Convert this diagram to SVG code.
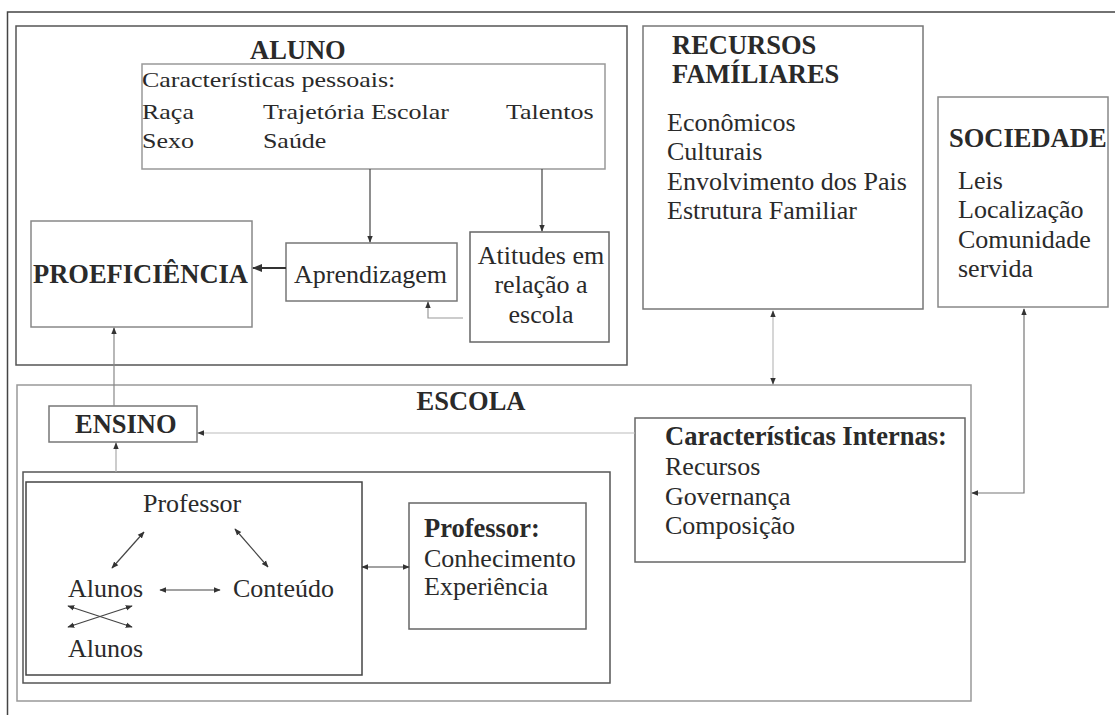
<svg xmlns="http://www.w3.org/2000/svg" width="1115" height="715" viewBox="0 0 1115 715">
<style>
text{font-family:"Liberation Serif","Times New Roman",serif;fill:#2a2a2a;font-size:26px}
.b{font-weight:bold;font-size:26.5px}
.box{fill:none;stroke-width:1.5}
.c{fill:none;stroke-width:1.2}
</style>
<defs>
<marker id="ah" viewBox="0 0 10 10" refX="9" refY="5" markerWidth="7" markerHeight="7" markerUnits="userSpaceOnUse" orient="auto-start-reverse"><path d="M0,1 L10,5 L0,9 z" fill="#333"/></marker>
<marker id="ahb" viewBox="0 0 10 10" refX="9" refY="5" markerWidth="10" markerHeight="10" markerUnits="userSpaceOnUse" orient="auto-start-reverse"><path d="M0,1 L10,5 L0,9 z" fill="#333"/></marker>
</defs>
<rect width="1115" height="715" fill="#fff"/>
<g id="frame"><path d="M7.5,715 V12 H1115" fill="none" stroke="#444" stroke-width="1.5"/></g>

<g id="aluno">
<rect class="box" x="16" y="26" width="611" height="339" stroke="#555"/>
<text class="b" x="250" y="59">ALUNO</text>
</g>
<g id="caracteristicas-pessoais">
<rect class="box" x="142" y="64" width="463" height="105" stroke="#999"/>
<g transform="translate(142,0) scale(1.3,1)" font-size="20">
<text x="0" y="87" style="font-size:20px">Características pessoais:</text>
<text x="0" y="119" style="font-size:20px">Raça</text>
<text x="93" y="119" style="font-size:20px">Trajetória Escolar</text>
<text x="280" y="119" style="font-size:20px">Talentos</text>
<text x="0" y="148" style="font-size:20px">Sexo</text>
<text x="93" y="148" style="font-size:20px">Saúde</text>
</g>
</g>
<g id="proeficiencia">
<rect class="box" x="31" y="221" width="221" height="106" stroke="#888"/>
<text class="b" x="33" y="283">PROEFICIÊNCIA</text>
</g>
<g id="aprendizagem">
<rect class="box" x="286" y="243" width="171" height="58" stroke="#777"/>
<text x="294" y="283">Aprendizagem</text>
</g>
<g id="atitudes">
<rect class="box" x="470" y="232" width="139" height="110" stroke="#666"/>
<text x="541" y="264" text-anchor="middle">Atitudes em</text>
<text x="541" y="293" text-anchor="middle">relação a</text>
<text x="541" y="323" text-anchor="middle">escola</text>
</g>
<g id="recursos-familiares">
<rect class="box" x="643" y="26" width="280" height="283" stroke="#777"/>
<text class="b" x="672" y="54">RECURSOS</text>
<text class="b" x="672" y="83">FAMÍLIARES</text>
<text x="667" y="131">Econômicos</text>
<text x="667" y="160">Culturais</text>
<text x="667" y="190">Envolvimento dos Pais</text>
<text x="667" y="219">Estrutura Familiar</text>
</g>
<g id="sociedade">
<rect class="box" x="938" y="97" width="170" height="210" stroke="#888"/>
<text class="b" x="949" y="147">SOCIEDADE</text>
<text x="958" y="189">Leis</text>
<text x="958" y="218">Localização</text>
<text x="958" y="248">Comunidade</text>
<text x="958" y="277">servida</text>
</g>
<g id="escola">
<rect class="box" x="17" y="385" width="954" height="316" stroke="#999"/>
<text class="b" x="471" y="410" text-anchor="middle">ESCOLA</text>
</g>
<g id="ensino">
<rect class="box" x="49" y="406" width="148" height="36" stroke="#777"/>
<text class="b" x="75" y="433">ENSINO</text>
</g>
<g id="caracteristicas-internas">
<rect class="box" x="635" y="418" width="330" height="144" stroke="#666"/>
<text class="b" x="665" y="445">Características Internas:</text>
<text x="665" y="475">Recursos</text>
<text x="665" y="505">Governança</text>
<text x="665" y="534">Composição</text>
</g>
<g id="sala">
<rect class="box" x="23" y="472" width="587" height="211" stroke="#555"/>
</g>
<g id="interacao">
<rect class="box" x="26" y="482" width="336" height="193" stroke="#444"/>
<text x="143" y="512">Professor</text>
<text x="68" y="597">Alunos</text>
<text x="233" y="597">Conteúdo</text>
<text x="68" y="657">Alunos</text>
</g>
<g id="professor">
<rect class="box" x="409" y="503" width="177" height="126" stroke="#666"/>
<text class="b" x="424" y="537">Professor:</text>
<text x="424" y="567">Conhecimento</text>
<text x="424" y="595">Experiência</text>
</g>

<g id="connectors">
<path class="c" d="M370,169 V242" stroke="#444" marker-end="url(#ah)"/>
<path class="c" d="M542,169 V231" stroke="#444" marker-end="url(#ah)"/>
<path d="M286,268 H253" fill="none" stroke="#333" stroke-width="2" marker-end="url(#ahb)"/>
<path class="c" d="M463,318 H428 V302" stroke="#999" marker-end="url(#ah)"/>
<path class="c" d="M114,406 V328" stroke="#888" marker-end="url(#ah)"/>
<path class="c" d="M116,472 V443" stroke="#aaa" marker-end="url(#ah)"/>
<path class="c" d="M635,433 H198" stroke="#bbb" marker-end="url(#ah)"/>
<path class="c" d="M773,311 V384" stroke="#bbb" stroke-width="1.5" marker-start="url(#ah)" marker-end="url(#ah)"/>
<path class="c" d="M1024,309 V493 H972" stroke="#777" stroke-width="1.5" marker-start="url(#ah)" marker-end="url(#ah)"/>
<path class="c" d="M144,532 L112,568" stroke="#444" marker-start="url(#ah)" marker-end="url(#ah)"/>
<path class="c" d="M235,529 L268,567" stroke="#444" marker-start="url(#ah)" marker-end="url(#ah)"/>
<path class="c" d="M160,590 H220" stroke="#444" marker-start="url(#ah)" marker-end="url(#ah)"/>
<path class="c" d="M68,606 L132,627" stroke="#444" marker-start="url(#ah)" marker-end="url(#ah)"/>
<path class="c" d="M68,627 L132,606" stroke="#444" marker-start="url(#ah)" marker-end="url(#ah)"/>
<path class="c" d="M362,567 H409" stroke="#444" marker-start="url(#ah)" marker-end="url(#ah)"/>
</g>
</svg>
